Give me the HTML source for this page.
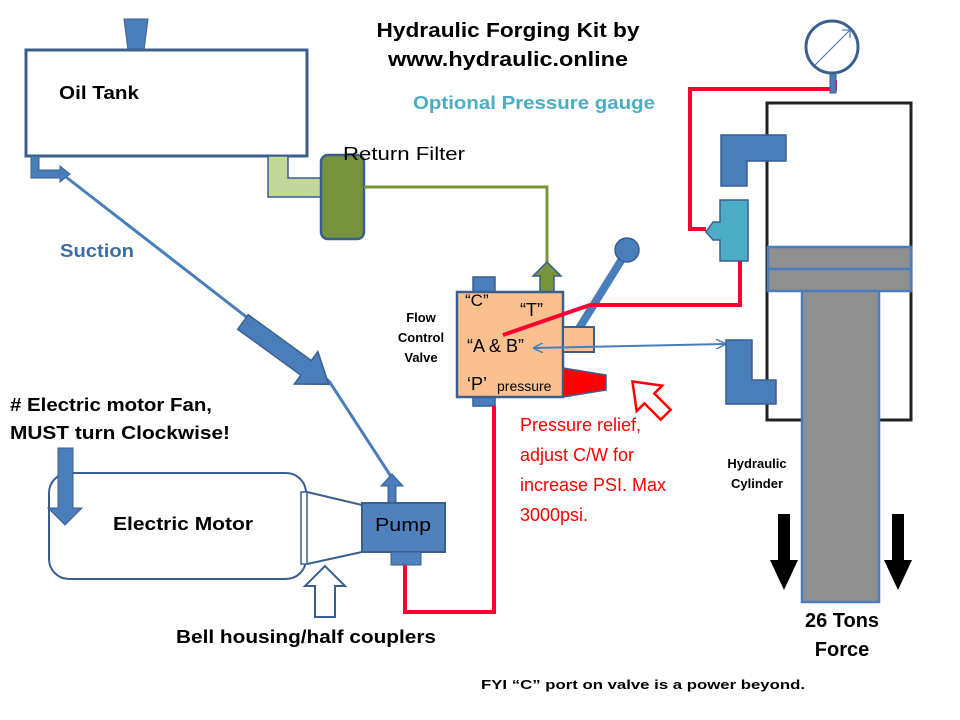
<!DOCTYPE html>
<html><head><meta charset="utf-8"><style>html,body{margin:0;padding:0;background:#fff}svg{display:block}text{font-family:"Liberation Sans",sans-serif}</style></head><body>
<svg width="960" height="720" viewBox="0 0 960 720" xmlns="http://www.w3.org/2000/svg">
<defs>
<marker id="ah" markerWidth="10" markerHeight="10" refX="9" refY="5" orient="auto-start-reverse" markerUnits="userSpaceOnUse"><path d="M0,0 L10,5 L0,10" fill="none" stroke="#4a7ebb" stroke-width="1.5"/></marker>
</defs>
<!-- tank -->
<polygon points="124,19 148,19 144,50 128,50" fill="#4a7ebb" stroke="#3a5f8f" stroke-width="1"/>
<rect x="26" y="50" width="281" height="106" fill="#fff" stroke="#3a5f8f" stroke-width="3"/>
<text x="59" y="99" font-size="18" font-weight="bold" textLength="80" lengthAdjust="spacingAndGlyphs">Oil Tank</text>
<!-- outlet bend -->
<path d="M31,156 H39 V170 H60 V166 L70,174 L60,182 V178 H31 Z" fill="#4a7ebb" stroke="#3a5f8f" stroke-width="1"/>
<!-- return L -->
<path d="M268,156 H288 V178 H322 V197 H268 Z" fill="#c4d79b" stroke="#3a5f8f" stroke-width="1.5"/>
<rect x="321" y="155" width="43" height="84" rx="7" fill="#77933c" stroke="#3a5f8f" stroke-width="2.5"/>
<text x="343" y="160" font-size="18" textLength="122" lengthAdjust="spacingAndGlyphs">Return Filter</text>
<polyline points="364,187 547,187 547,264" fill="none" stroke="#77933c" stroke-width="3"/>
<path d="M540,292 V276 H533 L547,262 L561,276 H554 V292 Z" fill="#77933c" stroke="#3a5f8f" stroke-width="1.5"/>
<!-- title -->
<text x="508" y="37" font-size="20" font-weight="bold" text-anchor="middle" textLength="263" lengthAdjust="spacingAndGlyphs">Hydraulic Forging Kit by</text>
<text x="508" y="66" font-size="20" font-weight="bold" text-anchor="middle" textLength="240" lengthAdjust="spacingAndGlyphs">www.hydraulic.online</text>
<text x="413" y="109" font-size="18" font-weight="bold" fill="#4bacc6" textLength="242" lengthAdjust="spacingAndGlyphs">Optional Pressure gauge</text>
<!-- suction -->
<text x="60" y="257" font-size="18" font-weight="bold" fill="#3a6ea5" textLength="74" lengthAdjust="spacingAndGlyphs">Suction</text>
<line x1="66" y1="177" x2="329" y2="381" stroke="#4a7ebb" stroke-width="3"/>
<line x1="329" y1="381" x2="392" y2="478" stroke="#4a7ebb" stroke-width="3"/>
<g transform="translate(243,322) rotate(36)">
<path d="M0,-9 H78 V-20 L106,0 L78,20 V9 H0 Z" fill="#4a7ebb" stroke="#3a5f8f" stroke-width="1.5"/>
</g>
<!-- valve -->
<rect x="473" y="277" width="22" height="16" fill="#4a7ebb" stroke="#3a5f8f" stroke-width="1.5"/>
<rect x="473" y="396" width="22" height="10" fill="#4a7ebb" stroke="#3a5f8f" stroke-width="1.5"/>
<line x1="578" y1="330" x2="627" y2="251" stroke="#4a7ebb" stroke-width="8"/>
<circle cx="627" cy="250" r="12" fill="#4a7ebb" stroke="#3a5f8f" stroke-width="1.5"/>
<rect x="457" y="292" width="106" height="105" fill="#fac090" stroke="#3a5f8f" stroke-width="2.5"/>
<rect x="563" y="327" width="31" height="25" fill="#fac090" stroke="#3a5f8f" stroke-width="2"/>
<polygon points="563,368 606,375 606,390 563,397" fill="#ff0000" stroke="#3a5f8f" stroke-width="1.5"/>
<text x="465" y="306" font-size="17">“C”</text>
<text x="520" y="316" font-size="18">“T”</text>
<text x="467" y="352" font-size="18">“A &amp; B”</text>
<text x="467" y="390" font-size="18">‘P’</text>
<text x="497" y="391" font-size="14">pressure</text>
<text x="421" y="322" font-size="13" font-weight="bold" text-anchor="middle">Flow</text>
<text x="421" y="342" font-size="13" font-weight="bold" text-anchor="middle">Control</text>
<text x="421" y="362" font-size="13" font-weight="bold" text-anchor="middle">Valve</text>
<!-- red lines -->
<polyline points="503,335 590,305 740,305 740,261" fill="none" stroke="#ff0033" stroke-width="4"/>
<polyline points="706,229 690,229 690,89 835,89 835,80" fill="none" stroke="#ff0033" stroke-width="4"/>
<polyline points="405,565 405,612 494,612 494,406" fill="none" stroke="#ff0033" stroke-width="4"/>
<!-- A&B blue double arrow -->
<line x1="534" y1="348" x2="725" y2="344" stroke="#4a7ebb" stroke-width="2" marker-start="url(#ah)" marker-end="url(#ah)"/>
<!-- outline red arrow -->
<g transform="translate(648,397) rotate(-45)">
<path d="M-7,25 V2 H-18 L0,-22 L18,2 H7 V25 Z" fill="#fff" stroke="#ff0000" stroke-width="2.5"/>
</g>
<text font-size="18" fill="#ff0000"><tspan x="520" y="431">Pressure relief,</tspan><tspan x="520" y="461">adjust C/W for</tspan><tspan x="520" y="491">increase PSI. Max</tspan><tspan x="520" y="521">3000psi.</tspan></text>
<!-- gauge -->
<rect x="830" y="73" width="6" height="20" fill="#4a7ebb" stroke="#3a5f8f" stroke-width="1"/>
<circle cx="832" cy="47" r="26" fill="#fff" stroke="#3a5f8f" stroke-width="3"/>
<line x1="815" y1="65" x2="850" y2="30" stroke="#4a7ebb" stroke-width="1.2"/>
<path d="M842,30 L850,30 L850,38" fill="none" stroke="#4a7ebb" stroke-width="1.2"/>
<!-- cylinder -->
<path d="M801,420 H767 V103 H911 V420 H879" fill="none" stroke="#222" stroke-width="3"/>
<path d="M721,135 H786 V161 H747 V186 H721 Z" fill="#4a7ebb" stroke="#3a5f8f" stroke-width="1.5"/>
<path d="M720,200 H748 V261 H720 V240 H713 L706,232 L713,222 H720 Z" fill="#4bacc6" stroke="#3a5f8f" stroke-width="1.5"/>
<path d="M726,340 H752 V380 H776 V404 H726 Z" fill="#4a7ebb" stroke="#3a5f8f" stroke-width="1.5"/>
<rect x="768" y="247" width="143" height="22" fill="#8f8f8f" stroke="#4a7ebb" stroke-width="2.5"/>
<rect x="768" y="269" width="143" height="22" fill="#8f8f8f" stroke="#4a7ebb" stroke-width="2.5"/>
<rect x="802" y="291" width="77" height="311" fill="#8f8f8f" stroke="#4a7ebb" stroke-width="2.5"/>
<path d="M778,514 H790 V560 H798 L784,590 L770,560 H778 Z" fill="#000"/>
<path d="M892,514 H904 V560 H912 L898,590 L884,560 H892 Z" fill="#000"/>
<text x="757" y="468" font-size="13" font-weight="bold" text-anchor="middle">Hydraulic</text>
<text x="757" y="488" font-size="13" font-weight="bold" text-anchor="middle">Cylinder</text>
<text x="842" y="627" font-size="20" font-weight="bold" text-anchor="middle">26 Tons</text>
<text x="842" y="656" font-size="20" font-weight="bold" text-anchor="middle">Force</text>
<!-- motor -->
<text x="10" y="411" font-size="18" font-weight="bold" textLength="202" lengthAdjust="spacingAndGlyphs">#  Electric motor Fan,</text>
<text x="10" y="439" font-size="18" font-weight="bold" textLength="220" lengthAdjust="spacingAndGlyphs">MUST turn Clockwise!</text>
<rect x="49" y="473" width="257" height="106" rx="20" fill="#fff" stroke="#3a5f8f" stroke-width="2"/>
<path d="M58,448 H73 V508 H82 L65,525 L48,508 H58 Z" fill="#4a7ebb" stroke="#3a5f8f" stroke-width="1"/>
<text x="113" y="530" font-size="18" font-weight="bold" textLength="140" lengthAdjust="spacingAndGlyphs">Electric Motor</text>
<rect x="301" y="492" width="6" height="72" fill="#fff" stroke="#3a5f8f" stroke-width="1.5"/>
<path d="M307,492 L362,505 M307,564 L362,552" stroke="#3a5f8f" stroke-width="2"/>
<path d="M388,503 V486 H381 L392,474 L403,486 H396 V503 Z" fill="#4a7ebb" stroke="#3a5f8f" stroke-width="1"/>
<rect x="362" y="503" width="83" height="49" fill="#4f81bd" stroke="#3a5f8f" stroke-width="2"/>
<rect x="391" y="552" width="30" height="13" fill="#4f81bd" stroke="#3a5f8f" stroke-width="1"/>
<text x="375" y="531" font-size="18" textLength="56" lengthAdjust="spacingAndGlyphs">Pump</text>
<path d="M315,617 V586 H305 L325,566 L345,586 H335 V617 Z" fill="#fff" stroke="#3a5f8f" stroke-width="2"/>
<text x="176" y="643" font-size="18" font-weight="bold" textLength="260" lengthAdjust="spacingAndGlyphs">Bell housing/half couplers</text>
<text x="481" y="689" font-size="13" font-weight="bold" textLength="324" lengthAdjust="spacingAndGlyphs">FYI “C” port on valve is a power beyond.</text>
</svg>
</body></html>
